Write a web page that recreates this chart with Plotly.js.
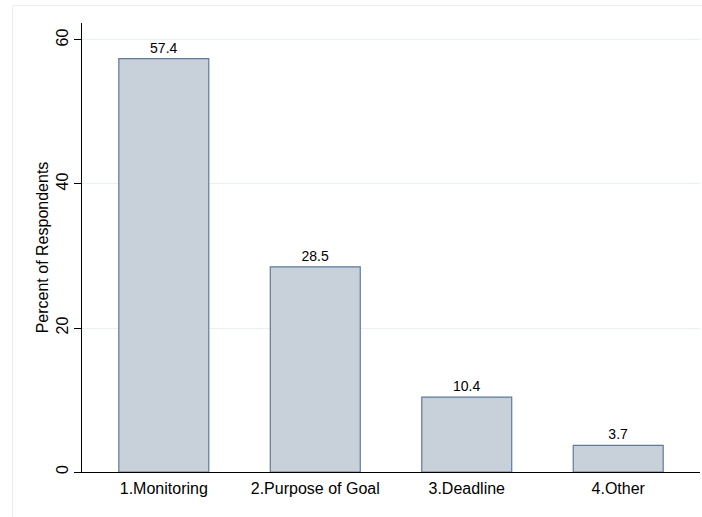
<!DOCTYPE html>
<html>
<head>
<meta charset="utf-8">
<script src="https://cdn.plot.ly/plotly-3.0.1.min.js"></script>
<style>
html,body{margin:0;padding:0;background:#fff;}
#wrap{position:relative;width:702px;height:517px;}
#frame{position:absolute;left:12px;top:5px;width:700px;height:520px;border:1px solid #ececec;box-sizing:border-box;pointer-events:none;}
#chart{position:absolute;left:0;top:0;width:702px;height:517px;}
</style>
</head>
<body>
<div id="wrap"><div id="chart"></div><div id="frame"></div></div>
<script>
const categories = ["1.Monitoring", "2.Purpose of Goal", "3.Deadline", "4.Other"];
const percents = [57.4, 28.5, 10.4, 3.7];
const valueLabels = ["57.4", "28.5", "10.4", "3.7"];
const yTicks = [0, 20, 40, 60];

const trace = {
  type: "bar",
  x: categories,
  y: percents,
  text: valueLabels,
  textposition: "outside",
  cliponaxis: false,
  textfont: {family: "Liberation Sans, Arial, sans-serif", size: 14, color: "#000"},
  width: 0.594,
  marker: {color: "#c8d0da", line: {color: "#5f7a99", width: 1.2}},
  hoverinfo: "none"
};

const layout = {
  width: 702, height: 517,
  margin: {l: 82, r: 2, t: 23, b: 45},
  paper_bgcolor: "#ffffff",
  plot_bgcolor: "#ffffff",
  showlegend: false,
  font: {family: "Liberation Sans, Arial, sans-serif", color: "#000"},
  xaxis: {
    type: "category",
    range: [-0.54, 3.54],
    showline: true, linecolor: "#000", linewidth: 1,
    ticks: "", showgrid: false, zeroline: false,
    ticklabelstandoff: 2,
    tickfont: {size: 16}
  },
  yaxis: {
    range: [0, 62.36],
    tickvals: yTicks,
    ticktext: yTicks.map(String),
    tickangle: -90,
    ticks: "outside", ticklen: 7, tickcolor: "#000", tickwidth: 1,
    showline: true, linecolor: "#000", linewidth: 1,
    showgrid: true, gridcolor: "#e8f0f1", gridwidth: 1,
    zeroline: false,
    tickfont: {size: 16},
    title: {text: "Percent of Respondents", font: {size: 16}, standoff: 0}
  }
};

Plotly.newPlot("chart", [trace], layout, {staticPlot: true, displayModeBar: false});
</script>
</body>
</html>
